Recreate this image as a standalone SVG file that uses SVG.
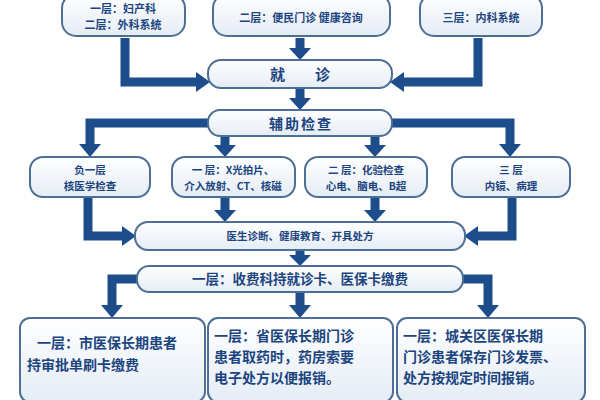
<svg xmlns="http://www.w3.org/2000/svg" width="600" height="400" viewBox="0 0 600 400">
<defs>
<linearGradient id="g" x1="0" y1="0" x2="0" y2="1"><stop offset="0" stop-color="#ffffff"/><stop offset="1" stop-color="#e4ecf5"/></linearGradient>
<style>
.b{fill:url(#g);stroke:#4d6f96;stroke-width:2}
.t{font-family:"Noto Sans CJK SC","Noto Sans",sans-serif;font-weight:bold;fill:#1c4580;text-anchor:middle}
.s{text-anchor:start}
.c{fill:none;stroke:#1d4d8b;stroke-width:9}
.h{fill:#1d4d8b}
</style>
</defs>
<rect width="600" height="400" fill="#fff"/>
<g id="connectors">
<path class="c" d="M125 38V82H196"/><polygon class="h" points="196,72 210,82 196,92"/>
<path class="c" d="M478 38V82H404"/><polygon class="h" points="404,72 390,82 404,92"/>
<path class="c" d="M300 38V50"/><polygon class="h" points="289,48 311,48 300,60"/>
<path class="c" d="M300 88V100"/><polygon class="h" points="289,98 311,98 300,110"/>
<path class="c" d="M210 123H90V145"/><polygon class="h" points="79,144 101,144 90,157"/>
<path class="c" d="M390 123H510V145"/><polygon class="h" points="499,144 521,144 510,157"/>
<path class="c" d="M225 136V146"/><polygon class="h" points="214,145 236,145 225,157"/>
<path class="c" d="M375 136V146"/><polygon class="h" points="364,145 386,145 375,157"/>
<path class="c" d="M88 197V236H123"/><polygon class="h" points="122,226 136,236 122,246"/>
<path class="c" d="M512 197V236H477"/><polygon class="h" points="478,226 464,236 478,246"/>
<path class="c" d="M225 197V211"/><polygon class="h" points="214,210 236,210 225,222"/>
<path class="c" d="M375 197V211"/><polygon class="h" points="364,210 386,210 375,222"/>
<path class="c" d="M300 250V256"/><polygon class="h" points="289,255 311,255 300,266"/>
<path class="c" d="M137 279H112V306"/><polygon class="h" points="101,305 123,305 112,318"/>
<path class="c" d="M300 292V306"/><polygon class="h" points="289,305 311,305 300,318"/>
<path class="c" d="M463 279H488V306"/><polygon class="h" points="477,305 499,305 488,318"/>
</g>
<g id="n1"><rect class="b" x="62" y="-6" width="123" height="42" rx="14"/><text class="t" x="123" y="13" font-size="11">一层：妇产科</text><text class="t" x="123" y="29" font-size="11">二层：外科系统</text></g>
<g id="n2"><rect class="b" x="213" y="-6" width="177" height="42" rx="14"/><text class="t" x="301" y="22" font-size="11">二层：便民门诊  健康咨询</text></g>
<g id="n3"><rect class="b" x="420" y="-6" width="122" height="42" rx="14"/><text class="t" x="481" y="22" font-size="11">三层：内科系统</text></g>
<g id="n4"><rect class="b" x="208" y="60" width="184" height="28" rx="13"/><text class="t" x="315" y="80" font-size="15" letter-spacing="30">就诊</text></g>
<g id="n5"><rect class="b" x="208" y="110" width="184" height="26" rx="12"/><text class="t" x="301" y="129" font-size="14" letter-spacing="2">辅助检查</text></g>
<g id="n6"><rect class="b" x="30" y="157" width="120" height="40" rx="13"/><text class="t" x="90" y="174" font-size="10.5">负一层</text><text class="t" x="90" y="190" font-size="10.5">核医学检查</text></g>
<g id="n7"><rect class="b" x="172" y="157" width="123" height="40" rx="13"/><text class="t" x="233" y="174" font-size="10.5">一 层：X光拍片、</text><text class="t" x="233" y="190" font-size="10.5">介入放射、CT、核磁</text></g>
<g id="n8"><rect class="b" x="305" y="157" width="122" height="40" rx="13"/><text class="t" x="366" y="174" font-size="10.5">二 层：化验检查</text><text class="t" x="366" y="190" font-size="10.5">心电、脑电、B超</text></g>
<g id="n9"><rect class="b" x="452" y="157" width="118" height="40" rx="13"/><text class="t" x="511" y="174" font-size="10.5">三 层</text><text class="t" x="511" y="190" font-size="10.5">内镜、病理</text></g>
<g id="n10"><rect class="b" x="135" y="222" width="330" height="28" rx="13"/><text class="t" x="300" y="240" font-size="10.5">医生诊断、健康教育、开具处方</text></g>
<g id="n11"><rect class="b" x="137" y="266" width="326" height="26" rx="12"/><text class="t" x="300" y="284" font-size="13.5">一层：收费科持就诊卡、医保卡缴费</text></g>
<g id="n12"><rect class="b" x="20" y="318" width="185" height="84" rx="10"/><text class="t s" x="37" y="348" font-size="14">一层：市医保长期患者</text><text class="t s" x="27" y="370" font-size="14">持审批单刷卡缴费</text></g>
<g id="n13"><rect class="b" x="208" y="318" width="185" height="84" rx="10"/><text class="t s" x="214" y="341" font-size="14">一层：省医保长期门诊</text><text class="t s" x="214" y="362" font-size="14">患者取药时，药房索要</text><text class="t s" x="214" y="383" font-size="14">电子处方以便报销。</text></g>
<g id="n14"><rect class="b" x="397" y="318" width="188" height="84" rx="10"/><text class="t s" x="403" y="341" font-size="14">一层：城关区医保长期</text><text class="t s" x="403" y="362" font-size="14">门诊患者保存门诊发票、</text><text class="t s" x="403" y="383" font-size="14">处方按规定时间报销。</text></g>
</svg>
